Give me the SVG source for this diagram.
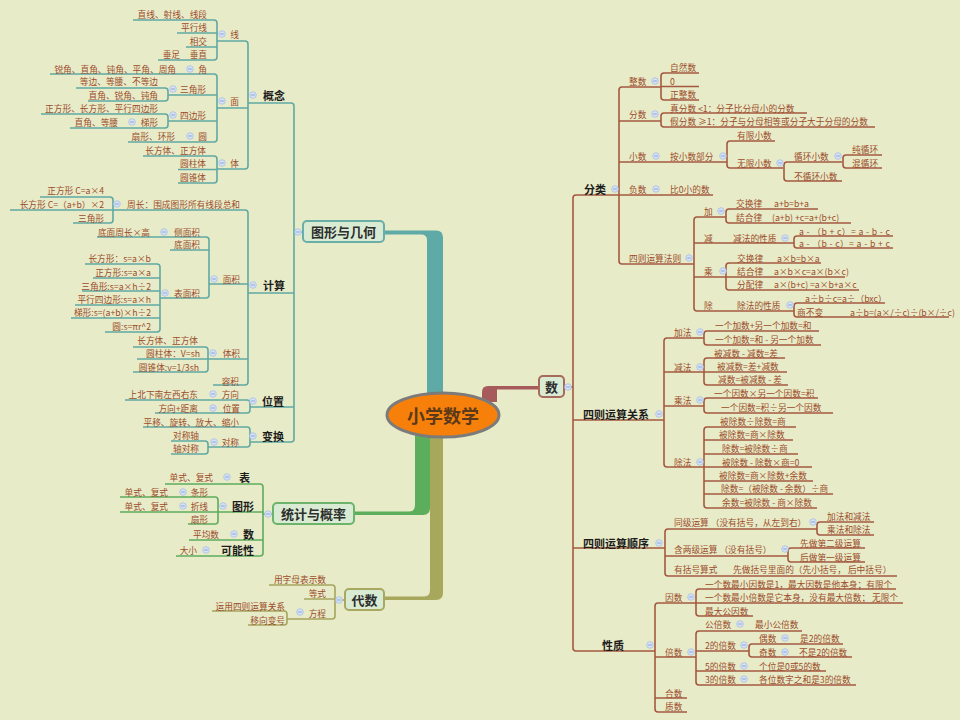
<svg xmlns="http://www.w3.org/2000/svg" xmlns:xlink="http://www.w3.org/1999/xlink" width="960" height="720" viewBox="0 0 960 720">
<style>
text{font-family:"Noto Sans CJK SC","Noto Sans",sans-serif;dominant-baseline:central}
.n{font-size:8.7px;fill:#9b4b2b}
.b{font-size:11px;font-weight:bold;fill:#1c1c1c}
.h{font-size:13px;font-weight:bold;fill:#2e2e2e;text-anchor:middle}
.e{text-anchor:end}
.tl{fill:none;stroke:#5fa9a3;stroke-width:1.6}
.gl{fill:none;stroke:#5cad5c;stroke-width:1.6}
.ol{fill:none;stroke:#a4a55e;stroke-width:1.6}
.rl{fill:none;stroke:#a4593f;stroke-width:1.6}
.box{fill:#d9ecd3;stroke-width:2}
</style>
<defs>
<g id="m"><circle r="3.3" fill="#d5e1f4" stroke="#a9bee3" stroke-width="0.8"/><line x1="-1.8" x2="1.8" y1="0" y2="0" stroke="#7f9fd6" stroke-width="0.9"/></g>
</defs>
<rect width="960" height="720" fill="#e8ebc8"/>

<g id="connectors">
<!-- trunks -->
<path d="M384,230.5 L436,230.5 Q443,230.5 443,237.5 L443,400 L427,400 L427,240 Q427,234.5 421,234.5 L384,234.5 Z" fill="#5fa9a6"/>
<path d="M354,511.5 L409,511.5 Q415,511.5 415,505 L415,430 L430,430 L430,508 Q430,515 423,515 L354,515 Z" fill="#5cad5c"/>
<path d="M384,596.5 L424,596.5 Q430,596.5 430,590 L430,430 L443,430 L443,593 Q443,600 436,600 L384,600 Z" fill="#a8a85c"/>
<path d="M482,402 L482,392 Q482,386 488,386 L539,386 L539,389.5 L497,389.5 L497,402 Z" fill="#a65a5a"/>
<!-- teal -->
<g class="tl">
<path d="M248,103 H291 Q294,103 294,106 V439 Q294,442 291,442 H250"/>
<path d="M248,293 H294 M250,407 H294 M294,232 H303"/>
<path d="M217,41 H245 Q248,41 248,44 V166 Q248,169 245,169 H217 M217,108 H248"/>
<path d="M133,20 H214 Q217,20 217,23 V57 Q217,60 214,60 H158 M177,33 H217 M186,47 H217"/>
<path d="M50,74 H214 Q217,74 217,77 V139 Q217,142 214,142 H128 M168,95 H217 M168,121 H217"/>
<path d="M76,88 H165 Q168,88 168,91 V98 Q168,101 165,101 H88"/>
<path d="M41,114 H165 Q168,114 168,117 V125 Q168,128 165,128 H70"/>
<path d="M143,156 H214 Q217,156 217,159 V180 Q217,183 214,183 H178 M178,169.5 H217"/>
<path d="M113,210 H245 Q248,210 248,213 V382 Q248,385 245,385 H213 M209,284 H248 M208,359 H248"/>
<path d="M40,197 H110 Q113,197 113,200 V220 Q113,223 110,223 H73 M10,210 H113"/>
<path d="M97,237 H206 Q209,237 209,240 V295 Q209,298 206,298 H160 M170,250 H209"/>
<path d="M85,264 H157 Q160,264 160,267 V329 Q160,332 157,332 H105 M93,278 H160 M82,291 H160 M75,305 H160 M71,318 H160"/>
<path d="M133,347 H205 Q208,347 208,350 V369 Q208,372 205,372 H133 M137,359 H208"/>
<path d="M125,400 H247 Q250,400 250,403 V410 Q250,413 247,413 H155"/>
<path d="M143,427 H247 Q250,427 250,430 V444 Q250,447 247,447 H208"/>
<path d="M171,441 H205 Q208,441 208,444 V451 Q208,454 205,454 H171"/>
</g>
<!-- green -->
<g class="gl">
<path d="M165,484 H260 Q263,484 263,487 V553 Q263,556 260,556 H176 M218,512 H263 M189,540 H263 M263,514 H273"/>
<path d="M120,497 H215 Q218,497 218,500 V521 Q218,524 215,524 H188 M120,512 H218"/>
</g>
<!-- olive -->
<g class="ol">
<path d="M269,585 H332 Q335,585 335,588 V616 Q335,619 332,619 H287 M304,599 H335 M335,600 H345"/>
<path d="M212,611 H284 Q287,611 287,614 V622 Q287,625 284,625 H248"/>
</g>
<!-- red -->
<g class="rl">
<path d="M619,195 H576 Q573,195 573,198 V648 Q573,651 576,651 H655 M573,420 H664 M573,548 H665 M564,387 H573"/>
<path d="M661,87 H622 Q619,87 619,90 V261 Q619,264 622,264 H694 M619,121 H661 M619,162 H727 M619,195 H713"/>
<path d="M699,73 H664 Q661,73 661,76 V97 Q661,100 664,100 H699 M661,86.5 H699"/>
<path d="M807,113 H664 Q661,113 661,116 V124 Q661,127 664,127 H875"/>
<path d="M775,141 H730 Q727,141 727,144 V165 Q727,168 730,168 H783"/>
<path d="M842,162 H787 Q784,162 784,165 V178 Q784,181 787,181 H842"/>
<path d="M882,155 H846 Q843,155 843,158 V165 Q843,168 846,168 H882"/>
<path d="M726,217 H697 Q694,217 694,220 V308 Q694,311 697,311 H794 M694,243 H794 M694,277 H726"/>
<path d="M818,209 H729 Q726,209 726,212 V220 Q726,223 729,223 H851"/>
<path d="M893,236 H797 Q794,236 794,239 V245 Q794,248 797,248 H893"/>
<path d="M821,263 H729 Q726,263 726,266 V287 Q726,290 729,290 H859 M726,277 H845"/>
<path d="M885,303 H797 Q794,303 794,306 V314 Q794,317 797,317 H949"/>
<path d="M704,338 H667 Q664,338 664,341 V464 Q664,467 667,467 H704 M664,372 H704 M664,406 H704"/>
<path d="M819,331 H707 Q704,331 704,334 V342 Q704,345 707,345 H821"/>
<path d="M785,358 H707 Q704,358 704,361 V382 Q704,385 707,385 H788 M704,372 H787"/>
<path d="M818,398 H707 Q704,398 704,401 V410 Q704,413 707,413 H833"/>
<path d="M796,427 H707 Q704,427 704,430 V505 Q704,508 707,508 H817 M704,440 H793 M704,454 H798 M704,467 H812 M704,481 H813 M704,494 H833"/>
<path d="M817,529 H668 Q665,529 665,532 V573 Q665,576 668,576 H897 M665,556 H788"/>
<path d="M874,522 H820 Q817,522 817,525 V532 Q817,535 820,535 H874"/>
<path d="M865,548 H791 Q788,548 788,551 V559 Q788,562 791,562 H865"/>
<path d="M696,603 H658 Q655,603 655,606 V709 Q655,712 658,712 H687 M655,657 H696 M655,698 H687"/>
<path d="M896,589 H699 Q696,589 696,592 V613 Q696,616 699,616 H753 M696,603 H903"/>
<path d="M802,631 H699 Q696,631 696,634 V682 Q696,685 699,685 H856 M696,651 H749 M696,671 H826"/>
<path d="M843,644 H752 Q749,644 749,647 V654 Q749,657 752,657 H852"/>
</g>
</g>

<g id="root"><ellipse cx="443" cy="415" rx="56" ry="22" fill="#f7800a" stroke="#7b7b7b" stroke-width="3"/><text x="443" y="415" class="h" style="font-size:18px;fill:#5b3a1a">小学数学</text></g>

<g id="main-boxes">
<g id="n-geo"><rect class="box" x="303" y="221" width="81" height="21" rx="4" stroke="#6aaea8"/><text class="h" x="343.5" y="231.5">图形与几何</text></g>
<g id="n-stat"><rect class="box" x="273" y="503" width="81" height="21" rx="4" stroke="#6cb36c"/><text class="h" x="313.5" y="513.5">统计与概率</text></g>
<g id="n-alg"><rect class="box" x="345" y="589" width="39" height="21" rx="4" stroke="#a8a860"/><text class="h" x="364.5" y="599.5">代数</text></g>
<g id="n-num"><rect class="box" x="539" y="376" width="25" height="21" rx="4" stroke="#a86a5a"/><text class="h" x="551.5" y="386.5">数</text></g>
</g>

<g id="geo-nodes">
<g id="g1"><text class="b e" x="285" y="95">概念</text></g>
<g id="g2"><text class="n e" x="239" y="34">线</text></g>
<g id="g3"><text class="n e" x="207" y="14">直线、射线、线段</text></g>
<g id="g4"><text class="n e" x="207" y="27">平行线</text></g>
<g id="g5"><text class="n e" x="207" y="41">相交</text></g>
<g id="g6"><text class="n e" x="207" y="54">垂直</text><text class="n e" x="180" y="54">垂足</text></g>
<g id="g7"><text class="n e" x="239" y="101">面</text></g>
<g id="g8"><text class="n e" x="207" y="69">角</text></g>
<g id="g9"><text class="n e" x="176" y="69">锐角、直角、钝角、平角、周角</text></g>
<g id="g10"><text class="n e" x="206" y="89">三角形</text></g>
<g id="g11"><text class="n e" x="158" y="81">等边、等腰、不等边</text></g>
<g id="g12"><text class="n e" x="158" y="95">直角、锐角、钝角</text></g>
<g id="g13"><text class="n e" x="206" y="115">四边形</text></g>
<g id="g14"><text class="n e" x="158" y="108">正方形、长方形、平行四边形</text></g>
<g id="g15"><text class="n e" x="158" y="122">梯形</text></g>
<g id="g16"><text class="n e" x="118" y="122">直角、等腰</text></g>
<g id="g17"><text class="n e" x="207" y="136">圆</text></g>
<g id="g18"><text class="n e" x="175" y="136">扇形、环形</text></g>
<g id="g19"><text class="n e" x="239" y="163">体</text></g>
<g id="g20"><text class="n e" x="206" y="150">长方体、正方体</text></g>
<g id="g21"><text class="n e" x="206" y="163">圆柱体</text></g>
<g id="g22"><text class="n e" x="206" y="177">圆锥体</text></g>
<g id="g23"><text class="b e" x="285" y="285">计算</text></g>
<g id="g24"><text class="n e" x="240" y="204">周长：围成图形所有线段总和</text></g>
<g id="g25"><text class="n e" x="104" y="190">正方形  C=a×4</text></g>
<g id="g26"><text class="n e" x="104" y="204">长方形  C=（a+b）×2</text></g>
<g id="g27"><text class="n e" x="104" y="218">三角形</text></g>
<g id="g28"><text class="n e" x="240" y="279">面积</text></g>
<g id="g29"><text class="n e" x="200" y="232">侧面积</text></g>
<g id="g30"><text class="n e" x="150" y="232">底面周长×高</text></g>
<g id="g31"><text class="n e" x="200" y="244">底面积</text></g>
<g id="g32"><text class="n e" x="200" y="293">表面积</text></g>
<g id="g33"><text class="n e" x="151" y="258">长方形：s=a×b</text></g>
<g id="g34"><text class="n e" x="151" y="272">正方形:s=a×a</text></g>
<g id="g35"><text class="n e" x="151" y="286">三角形:s=a×h÷2</text></g>
<g id="g36"><text class="n e" x="151" y="299">平行四边形:s=a×h</text></g>
<g id="g37"><text class="n e" x="151" y="312">梯形:s=(a+b)×h÷2</text></g>
<g id="g38"><text class="n e" x="151" y="326">圆:s=πr^2</text></g>
<g id="g39"><text class="n e" x="240" y="353">体积</text></g>
<g id="g40"><text class="n e" x="198" y="340">长方体、正方体</text></g>
<g id="g41"><text class="n e" x="200" y="353">圆柱体：V=sh</text></g>
<g id="g42"><text class="n e" x="199" y="367">圆锥体:v=1/3sh</text></g>
<g id="g43"><text class="n e" x="239" y="381">容积</text></g>
<g id="g44"><text class="b e" x="284" y="401">位置</text></g>
<g id="g45"><text class="n e" x="239" y="394">方向</text><text class="n e" x="198" y="394">上北下南左西右东</text></g>
<g id="g46"><text class="n e" x="240" y="408">位置</text><text class="n e" x="198" y="408">方向+距离</text></g>
<g id="g47"><text class="b e" x="284" y="436">变换</text></g>
<g id="g48"><text class="n e" x="239" y="422">平移、旋转、放大、缩小</text></g>
<g id="g49"><text class="n e" x="239" y="442">对称</text></g>
<g id="g50"><text class="n e" x="199" y="435">对称轴</text></g>
<g id="g51"><text class="n e" x="199" y="448">轴对称</text></g>
</g>

<g id="stat-nodes">
<g id="s1"><text class="b e" x="250" y="477">表</text><text class="n e" x="213" y="477">单式、复式</text></g>
<g id="s2"><text class="b e" x="254" y="506">图形</text></g>
<g id="s3"><text class="n e" x="208" y="492">条形</text><text class="n e" x="168" y="492">单式、复式</text></g>
<g id="s4"><text class="n e" x="208" y="506">折线</text><text class="n e" x="168" y="506">单式、复式</text></g>
<g id="s5"><text class="n e" x="208" y="519">扇形</text></g>
<g id="s6"><text class="b e" x="254" y="534">数</text><text class="n e" x="219" y="534">平均数</text></g>
<g id="s7"><text class="b e" x="254" y="550">可能性</text><text class="n e" x="197" y="550">大小</text></g>
</g>

<g id="alg-nodes">
<g id="a1"><text class="n e" x="326" y="579">用字母表示数</text></g>
<g id="a2"><text class="n e" x="326" y="593">等式</text></g>
<g id="a3"><text class="n e" x="326" y="613">方程</text></g>
<g id="a4"><text class="n e" x="285" y="606">运用四则运算关系</text></g>
<g id="a5"><text class="n e" x="285" y="620">移向变号</text></g>
</g>

<g id="num-nodes">
<g id="r1"><text class="b" x="584" y="189">分类</text></g>
<g id="r2"><text class="n" x="629" y="81">整数</text></g>
<g id="r3"><text class="n" x="670" y="67">自然数</text></g>
<g id="r4"><text class="n" x="670" y="81">0</text></g>
<g id="r5"><text class="n" x="670" y="94">正整数</text></g>
<g id="r6"><text class="n" x="629" y="114">分数</text></g>
<g id="r7"><text class="n" x="670" y="108">真分数   &lt;1：分子比分母小的分数</text></g>
<g id="r8"><text class="n" x="670" y="121">假分数   ≥1：分子与分母相等或分子大于分母的分数</text></g>
<g id="r9"><text class="n" x="629" y="156">小数</text></g>
<g id="r10"><text class="n" x="670" y="156">按小数部分</text></g>
<g id="r11"><text class="n" x="737" y="135">有限小数</text></g>
<g id="r12"><text class="n" x="737" y="163">无限小数</text></g>
<g id="r13"><text class="n" x="794" y="156">循环小数</text></g>
<g id="r14"><text class="n" x="852" y="149">纯循环</text></g>
<g id="r15"><text class="n" x="852" y="163">混循环</text></g>
<g id="r16"><text class="n" x="794" y="176">不循环小数</text></g>
<g id="r17"><text class="n" x="629" y="189">负数</text></g>
<g id="r18"><text class="n" x="670" y="189">比0小的数</text></g>
<g id="r19"><text class="n" x="629" y="258">四则运算法则</text></g>
<g id="r20"><text class="n" x="704" y="211">加</text></g>
<g id="r21"><text class="n" x="736" y="203">交换律</text><text class="n" x="774" y="203">a+b=b+a</text></g>
<g id="r22"><text class="n" x="736" y="217">结合律</text><text class="n" x="772" y="217">(a+b) +c=a+(b+c)</text></g>
<g id="r23"><text class="n" x="704" y="238">减</text></g>
<g id="r24"><text class="n" x="733" y="238">减法的性质</text></g>
<g id="r25"><text class="n" x="799" y="231" textLength="91">a - （b + c）= a - b - c</text></g>
<g id="r26"><text class="n" x="799" y="243" textLength="91">a - （b - c）= a - b + c</text></g>
<g id="r27"><text class="n" x="704" y="271">乘</text></g>
<g id="r28"><text class="n" x="737" y="258">交换律</text><text class="n" x="777" y="258">a×b=b×a</text></g>
<g id="r29"><text class="n" x="737" y="271">结合律</text><text class="n" x="774" y="271">a×b×c=a×(b×c)</text></g>
<g id="r30"><text class="n" x="737" y="284">分配律</text><text class="n" x="774" y="284">a×(b+c) =a×b+a×c</text></g>
<g id="r31"><text class="n" x="704" y="305">除</text></g>
<g id="r32"><text class="n" x="737" y="305">除法的性质</text></g>
<g id="r33"><text class="n" x="805" y="298">a÷b÷c=a÷（bxc）</text></g>
<g id="r34"><text class="n" x="797" y="312">商不变</text><text class="n" x="850" y="312">a÷b=(a×/÷c)÷(b×/÷c)</text></g>
<g id="r35"><text class="b" x="583" y="414">四则运算关系</text></g>
<g id="r36"><text class="n" x="674" y="332">加法</text></g>
<g id="r37"><text class="n" x="715" y="325">一个加数+另一个加数=和</text></g>
<g id="r38"><text class="n" x="715" y="339">一个加数=和 - 另一个加数</text></g>
<g id="r39"><text class="n" x="674" y="367">减法</text></g>
<g id="r40"><text class="n" x="714" y="353">被减数 - 减数=差</text></g>
<g id="r41"><text class="n" x="717" y="366">被减数=差+减数</text></g>
<g id="r42"><text class="n" x="718" y="379">减数=被减数 - 差</text></g>
<g id="r43"><text class="n" x="674" y="400">乘法</text></g>
<g id="r44"><text class="n" x="714" y="393">一个因数×另一个因数=积</text></g>
<g id="r45"><text class="n" x="721" y="407">一个因数=积÷另一个因数</text></g>
<g id="r46"><text class="n" x="674" y="462">除法</text></g>
<g id="r47"><text class="n" x="720" y="421">被除数÷除数=商</text></g>
<g id="r48"><text class="n" x="719" y="434">被除数=商×除数</text></g>
<g id="r49"><text class="n" x="722" y="448">除数=被除数÷商</text></g>
<g id="r50"><text class="n" x="722" y="462">被除数 - 除数×商=0</text></g>
<g id="r51"><text class="n" x="719" y="475">被除数=商×除数+余数</text></g>
<g id="r52"><text class="n" x="721" y="488">除数=（被除数 - 余数）÷商</text></g>
<g id="r53"><text class="n" x="722" y="502">余数=被除数 - 商×除数</text></g>
<g id="r54"><text class="b" x="583" y="543">四则运算顺序</text></g>
<g id="r55"><text class="n" x="674" y="522">同级运算 （没有括号，从左到右）</text></g>
<g id="r56"><text class="n" x="827" y="516">加法和减法</text></g>
<g id="r57"><text class="n" x="827" y="529">乘法和除法</text></g>
<g id="r58"><text class="n" x="674" y="549">含两级运算   （没有括号）</text></g>
<g id="r59"><text class="n" x="800" y="543">先做第二级运算</text></g>
<g id="r60"><text class="n" x="800" y="557">后做第一级运算</text></g>
<g id="r61"><text class="n" x="674" y="569">有括号算式</text><text class="n" x="733" y="569">先做括号里面的（先小括号， 后中括号）</text></g>
<g id="r62"><text class="b" x="602" y="645">性质</text></g>
<g id="r63"><text class="n" x="665" y="597">因数</text></g>
<g id="r64"><text class="n" x="705" y="584">一个数最小因数是1，最大因数是他本身；有限个</text></g>
<g id="r65"><text class="n" x="705" y="597">一个数最小倍数是它本身，没有最大倍数； 无限个</text></g>
<g id="r66"><text class="n" x="705" y="611">最大公因数</text></g>
<g id="r67"><text class="n" x="665" y="652">倍数</text></g>
<g id="r68"><text class="n" x="705" y="624">公倍数</text><text class="n" x="755" y="624">最小公倍数</text></g>
<g id="r69"><text class="n" x="705" y="645">2的倍数</text></g>
<g id="r70"><text class="n" x="759" y="638">偶数</text><text class="n" x="800" y="638">是2的倍数</text></g>
<g id="r71"><text class="n" x="759" y="652">奇数</text><text class="n" x="799" y="652">不是2的倍数</text></g>
<g id="r72"><text class="n" x="705" y="666">5的倍数</text><text class="n" x="759" y="666">个位是0或5的数</text></g>
<g id="r73"><text class="n" x="705" y="679">3的倍数</text><text class="n" x="759" y="679">各位数字之和是3的倍数</text></g>
<g id="r74"><text class="n" x="665" y="693">合数</text></g>
<g id="r75"><text class="n" x="665" y="706">质数</text></g>
</g>

<g id="toggles">
<use xlink:href="#m" x="253" y="95"/><use xlink:href="#m" x="222" y="34"/><use xlink:href="#m" x="190" y="69"/>
<use xlink:href="#m" x="173" y="89"/><use xlink:href="#m" x="222" y="101"/><use xlink:href="#m" x="173" y="115"/>
<use xlink:href="#m" x="132" y="122"/><use xlink:href="#m" x="190" y="136"/><use xlink:href="#m" x="222" y="163"/>
<use xlink:href="#m" x="117" y="204"/><use xlink:href="#m" x="253" y="285"/><use xlink:href="#m" x="164" y="232"/>
<use xlink:href="#m" x="214" y="279"/><use xlink:href="#m" x="165" y="293"/><use xlink:href="#m" x="213" y="353"/>
<use xlink:href="#m" x="253" y="401"/><use xlink:href="#m" x="213" y="394"/><use xlink:href="#m" x="213" y="408"/>
<use xlink:href="#m" x="253" y="436"/><use xlink:href="#m" x="214" y="442"/><use xlink:href="#m" x="298" y="232"/>
<use xlink:href="#m" x="227" y="477"/><use xlink:href="#m" x="223" y="506"/><use xlink:href="#m" x="183" y="492"/>
<use xlink:href="#m" x="183" y="506"/><use xlink:href="#m" x="234" y="534"/><use xlink:href="#m" x="206" y="550"/>
<use xlink:href="#m" x="268" y="514"/><use xlink:href="#m" x="339" y="600"/><use xlink:href="#m" x="300" y="612"/>
<use xlink:href="#m" x="568" y="387"/><use xlink:href="#m" x="615" y="189"/><use xlink:href="#m" x="655" y="81"/>
<use xlink:href="#m" x="655" y="114"/><use xlink:href="#m" x="656" y="156"/><use xlink:href="#m" x="723" y="156"/>
<use xlink:href="#m" x="780" y="163"/><use xlink:href="#m" x="838" y="156"/><use xlink:href="#m" x="656" y="189"/>
<use xlink:href="#m" x="689" y="258"/><use xlink:href="#m" x="721" y="211"/><use xlink:href="#m" x="785" y="238"/>
<use xlink:href="#m" x="723" y="271"/><use xlink:href="#m" x="790" y="305"/><use xlink:href="#m" x="659" y="414"/>
<use xlink:href="#m" x="700" y="332"/><use xlink:href="#m" x="700" y="367"/><use xlink:href="#m" x="700" y="400"/>
<use xlink:href="#m" x="700" y="462"/><use xlink:href="#m" x="659" y="543"/><use xlink:href="#m" x="813" y="522"/>
<use xlink:href="#m" x="785" y="549"/><use xlink:href="#m" x="650" y="645"/><use xlink:href="#m" x="691" y="597"/>
<use xlink:href="#m" x="691" y="652"/><use xlink:href="#m" x="740" y="624"/><use xlink:href="#m" x="744" y="645"/>
<use xlink:href="#m" x="785" y="638"/><use xlink:href="#m" x="785" y="652"/><use xlink:href="#m" x="744" y="666"/>
<use xlink:href="#m" x="744" y="679"/>
</g>
</svg>
